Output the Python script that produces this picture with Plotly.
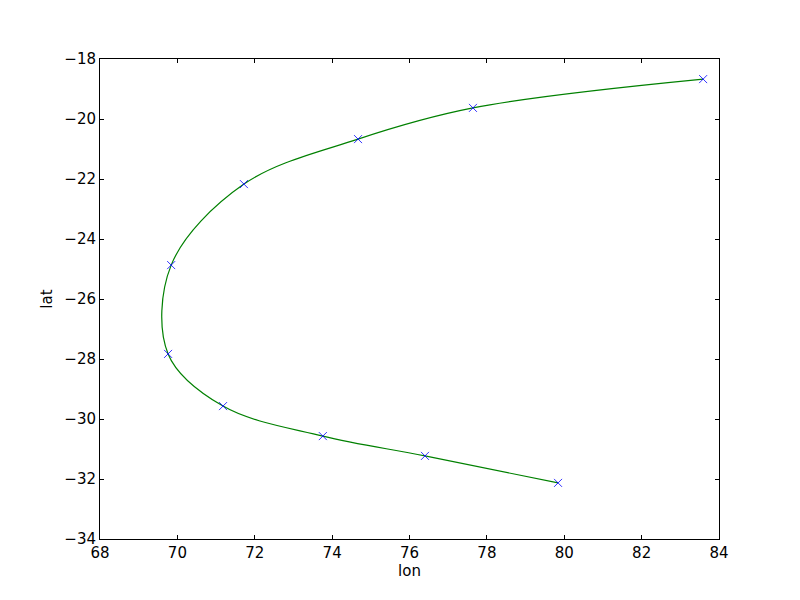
import plotly.graph_objects as go

lon = [79.84, 76.40, 73.76, 71.18, 69.76, 69.84, 71.72, 74.67, 77.64, 83.59]
lat = [-32.13, -31.23, -30.57, -29.57, -27.83, -24.87, -22.17, -20.67, -19.63, -18.67]
x_ticks = [68, 70, 72, 74, 76, 78, 80, 82, 84]
y_ticks = [-34, -32, -30, -28, -26, -24, -22, -20, -18]

fig = go.Figure()
fig.add_trace(go.Scatter(x=lon, y=lat, mode="lines",
                         line=dict(color="#008000", width=1.2, shape="spline", smoothing=1.0),
                         showlegend=False, hoverinfo="skip"))
fig.add_trace(go.Scatter(x=lon, y=lat, mode="markers",
                         marker=dict(symbol="x-thin", size=8, line=dict(color="#0000ff", width=0.8)),
                         showlegend=False))

axis_common = dict(showgrid=False, zeroline=False, showline=True, linecolor="black", linewidth=1,
                   mirror="allticks", ticks="inside", ticklen=4, tickcolor="black", automargin=False,
                   tickfont=dict(family="DejaVu Sans", size=15, color="black"))
fig.update_xaxes(range=[68, 84], tickvals=x_ticks, ticktext=[str(v) for v in x_ticks],
                 title=dict(text="lon", font=dict(family="DejaVu Sans", size=15, color="black"), standoff=4),
                 **axis_common)
fig.update_yaxes(range=[-34, -18], tickvals=y_ticks, ticktext=["\u2212" + str(-v) for v in y_ticks],
                 title=dict(text="lat", font=dict(family="DejaVu Sans", size=15, color="black"), standoff=8),
                 **axis_common)
fig.update_layout(width=800, height=600, margin=dict(l=92, r=89, t=51, b=69),
                  plot_bgcolor="white", paper_bgcolor="white")
fig.write_html("out.html")
